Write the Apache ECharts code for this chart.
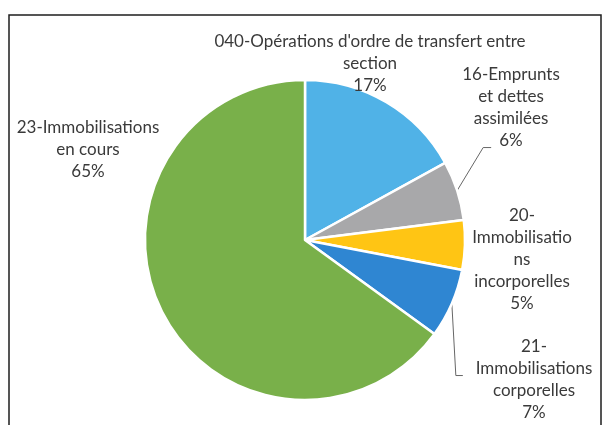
<!DOCTYPE html>
<html>
<head>
<meta charset="utf-8">
<script src="https://cdn.jsdelivr.net/npm/echarts@6/dist/echarts.min.js"></script>
<style>
    html, body { margin: 0; padding: 0; background: #fff; }
    #chart { width: 607px; height: 425px; }
</style>
</head>
<body>
<div id="chart"></div>
<script>
// valeurs (en %)
const names = [
    "040-Opérations d'ordre de transfert entre section",
    '16-Emprunts et dettes assimilées',
    '20-Immobilisations incorporelles',
    '21-Immobilisations corporelles',
    '23-Immobilisations en cours'
];
// libellés avec les retours à la ligne de l'original
const labelTexts = [
    "040-Opérations d'ordre de transfert entre\nsection",
    '16-Emprunts\net dettes\nassimilées',
    '20-\nImmobilisatio\nns\nincorporelles',
    '21-\nImmobilisations\ncorporelles',
    '23-Immobilisations\nen cours'
];
const values = [17, 6, 5, 7, 65];
const colors = ['#50b2e7', '#a8a8aa', '#ffc514', '#2f86d2', '#79b04a'];

// position des étiquettes (haut-centre du bloc de texte)
const labelPos = [
    { x: 370, y: 31 },
    { x: 511, y: 64 },
    { x: 522, y: 205 },
    { x: 534, y: 336 },
    { x: 88, y: 117 }
];
// lignes de rappel : décalages depuis le bord du secteur
const leaders = [
    null,
    [[26, -43], [34, -43]],
    null,
    [[4, 72], [11, 72]],
    null
];

const chart = echarts.init(document.getElementById('chart'));

const option = {
    animation: false,
    textStyle: { fontFamily: 'Lato, "Open Sans", sans-serif' },
    graphic: [
        {
            type: 'rect',
            shape: { x: 9, y: 15, width: 592, height: 430 },
            style: { fill: 'none', stroke: '#1e1e1e', lineWidth: 1.5 }
        }
    ],
    series: [
        {
            type: 'pie',
            center: [305, 240],
            radius: 160,
            startAngle: 90,
            clockwise: true,
            itemStyle: { borderColor: '#fff', borderWidth: 2.5 },
            label: {
                show: true,
                position: 'outside',
                color: '#3a3a3a',
                fontSize: 17,
                lineHeight: 22,
                align: 'center',
                overflow: 'none',
                formatter: (p) => labelTexts[p.dataIndex] + '\n' + p.percent.toFixed(0) + '%'
            },
            labelLine: {
                lineStyle: { color: '#666', width: 1 }
            },
            labelLayout: (params) => {
                const i = params.dataIndex;
                const res = {
                    x: labelPos[i].x,
                    y: labelPos[i].y,
                    align: 'center',
                    verticalAlign: 'top'
                };
                const lp = params.labelLinePoints;
                if (leaders[i] && lp) {
                    const s = lp[0];
                    res.labelLinePoints = [
                        [s[0], s[1]],
                        [s[0] + leaders[i][0][0], s[1] + leaders[i][0][1]],
                        [s[0] + leaders[i][1][0], s[1] + leaders[i][1][1]]
                    ];
                }
                return res;
            },
            data: names.map((n, i) => ({
                name: n,
                value: values[i],
                itemStyle: { color: colors[i] },
                labelLine: { show: !!leaders[i] }
            }))
        }
    ]
};

chart.setOption(option);
</script>
</body>
</html>
